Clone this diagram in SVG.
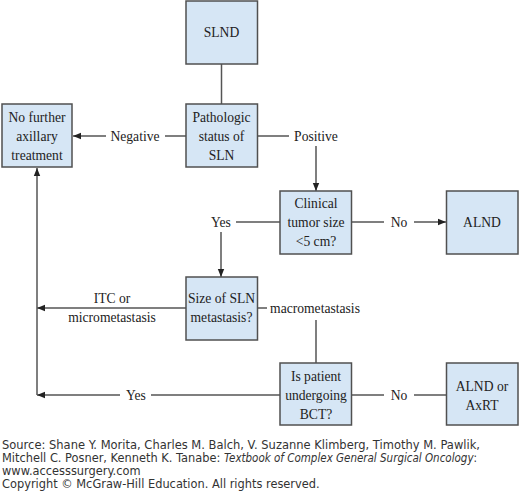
<svg xmlns="http://www.w3.org/2000/svg" width="519" height="492" viewBox="0 0 519 492">
<style>
.box{fill:#d6e6f5;stroke:#505050;stroke-width:1.5}
.t{font-family:"Liberation Serif","Times New Roman",serif;font-size:13.6px;fill:#222;text-anchor:middle}
.ln{fill:none;stroke:#555;stroke-width:1.5}
.ft{font-family:"DejaVu Sans",Verdana,sans-serif;font-size:11.4px;fill:#333}
</style>
<defs>
<marker id="ah" viewBox="0 0 10 10" refX="10" refY="5" markerWidth="8" markerHeight="8" markerUnits="userSpaceOnUse" orient="auto">
<path d="M0,1 L10,5 L0,9 Z" fill="#222"/>
</marker>
</defs>
<rect width="519" height="492" fill="#fff"/>
<g id="connectors">
<path class="ln" d="M221.5,64 V104"/>
<path class="ln" d="M186,136 H165"/>
<path class="ln" d="M106,136 H73" marker-end="url(#ah)"/>
<text class="t" x="135" y="141">Negative</text>
<path class="ln" d="M258,136 H289"/>
<text class="t" x="316" y="141">Positive</text>
<path class="ln" d="M316,146 V191" marker-end="url(#ah)"/>
<path class="ln" d="M352,222 H384"/>
<text class="t" x="399" y="227">No</text>
<path class="ln" d="M414,222 H446" marker-end="url(#ah)"/>
<path class="ln" d="M280,222 H236"/>
<text class="t" x="221" y="227">Yes</text>
<path class="ln" d="M221,232 V277" marker-end="url(#ah)"/>
<path class="ln" d="M186,308 H37" marker-end="url(#ah)"/>
<text class="t" x="112" y="303">ITC or</text>
<text class="t" x="112" y="322">micrometastasis</text>
<path class="ln" d="M258,308 H267"/>
<text class="t" x="315" y="313">macrometastasis</text>
<path class="ln" d="M316,320 V363"/>
<path class="ln" d="M352,395 H384"/>
<text class="t" x="399" y="400">No</text>
<path class="ln" d="M414,395 H446"/>
<path class="ln" d="M280,395 H151"/>
<text class="t" x="136" y="400">Yes</text>
<path class="ln" d="M120,395 H37" marker-end="url(#ah)"/>
<path class="ln" d="M37,395 V168" marker-end="url(#ah)"/>
</g>
<g id="slnd"><rect class="box" x="186" y="1" width="71.5" height="63"/><text class="t" x="221.5" y="37">SLND</text></g>
<g id="pathologic"><rect class="box" x="186" y="104" width="71.5" height="63"/><text class="t" x="221.5" y="122">Pathologic</text><text class="t" x="221.5" y="141">status of</text><text class="t" x="221.5" y="160">SLN</text></g>
<g id="nofurther"><rect class="box" x="2" y="104" width="70" height="63"/><text class="t" x="37" y="122">No further</text><text class="t" x="37" y="141">axillary</text><text class="t" x="37" y="160">treatment</text></g>
<g id="clinical"><rect class="box" x="280" y="191" width="71.5" height="63"/><text class="t" x="316" y="208">Clinical</text><text class="t" x="316" y="227">tumor size</text><text class="t" x="316" y="246">&lt;5 cm?</text></g>
<g id="alnd"><rect class="box" x="446.5" y="191" width="71.5" height="63"/><text class="t" x="482" y="227">ALND</text></g>
<g id="size"><rect class="box" x="186" y="277" width="71.5" height="63"/><text class="t" x="221.5" y="303">Size of SLN</text><text class="t" x="221.5" y="322">metastasis?</text></g>
<g id="bct"><rect class="box" x="280" y="363" width="71.5" height="62"/><text class="t" x="316" y="381">Is patient</text><text class="t" x="316" y="400">undergoing</text><text class="t" x="316" y="419">BCT?</text></g>
<g id="alndaxrt"><rect class="box" x="446.5" y="363" width="71.5" height="62"/><text class="t" x="482" y="391">ALND or</text><text class="t" x="482" y="410">AxRT</text></g>
<g id="footer">
<text class="ft" x="2" y="449" textLength="478" lengthAdjust="spacingAndGlyphs">Source: Shane Y. Morita, Charles M. Balch, V. Suzanne Klimberg, Timothy M. Pawlik,</text>
<text class="ft" x="2" y="462">Mitchell C. Posner, Kenneth K. Tanabe:</text>
<text class="ft" x="224" y="462" font-style="italic" textLength="253" lengthAdjust="spacingAndGlyphs">Textbook of Complex General Surgical Oncology<tspan font-style="normal">:</tspan></text>
<text class="ft" x="2" y="475">www.accesssurgery.com</text>
<text class="ft" x="2" y="488">Copyright © McGraw-Hill Education. All rights reserved.</text>
</g>
</svg>
